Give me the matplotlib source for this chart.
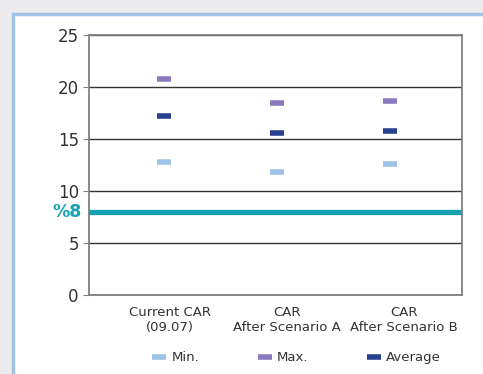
import matplotlib.pyplot as plt
import matplotlib.transforms as mtransforms
from matplotlib.patches import Rectangle
import numpy as np

# CAR ranges per case
categories = ['Current CAR\n(09.07)', 'CAR\nAfter Scenario A', 'CAR\nAfter Scenario B']
car_min = [12.8, 11.8, 12.6]
car_max = [20.8, 18.5, 18.7]
car_avg = [17.2, 15.6, 15.8]
threshold = 8
yticks = [0, 5, 10, 15, 20, 25]

fig = plt.figure(figsize=(4.83, 3.74), dpi=100, facecolor='#ebebee')

# white panel with light blue frame, kept behind the axes
panel = Rectangle((12.5 / 483, -0.05), 1.2, 1 - 13.5 / 374 + 0.05,
                  transform=fig.transFigure, facecolor='white',
                  edgecolor='#9dc3e6', linewidth=2.5, zorder=-1)
fig.patches.append(panel)

ax = fig.add_axes([89 / 483, 1 - 295 / 374, 373 / 483, 260 / 374])
ax.set_facecolor('white')

x = np.arange(len(categories))
ax.plot(x, car_min, linestyle='none', marker='_', markersize=10,
        markeredgewidth=4, color='#9dc3e6', label='Min.', zorder=4)
ax.plot(x, car_max, linestyle='none', marker='_', markersize=10,
        markeredgewidth=4, color='#8b79bd', label='Max.', zorder=4)
ax.plot(x, car_avg, linestyle='none', marker='_', markersize=10,
        markeredgewidth=4, color='#283f8e', label='Average', zorder=4)

# minimum requirement line
ax.axhline(threshold, color='#16a2b3', linewidth=3.8, zorder=3)
ax.text(-0.019, threshold, '%' + str(threshold), transform=ax.get_yaxis_transform(),
        ha='right', va='center', fontsize=12.5, fontweight='bold', color='#16a2b3')

ax.set_ylim(yticks[0], yticks[-1])
ax.set_xlim(-0.66, 2.64)
ax.set_yticks(yticks)
ax.set_yticklabels([str(v) for v in yticks])
ax.yaxis.grid(True, color='#333333', linewidth=1)
ax.set_axisbelow(True)
ax.tick_params(axis='y', length=4.3, width=0.8, color='#808080', labelsize=12,
               labelcolor='#333333', pad=3)

ax.set_xticks(x)
ax.set_xticklabels(categories, fontsize=9.5, color='#333333')
ax.tick_params(axis='x', length=0, pad=8)
shifts = [6, 10, 14]
for lbl, dx in zip(ax.get_xticklabels(), shifts):
    lbl.set_transform(lbl.get_transform() +
                      mtransforms.ScaledTranslation(dx / 100, 0, fig.dpi_scale_trans))

for side in ['left', 'right', 'top', 'bottom']:
    ax.spines[side].set_color('#808080')
    ax.spines[side].set_linewidth(1.3)

ax.legend(loc='center', bbox_to_anchor=(0.615, 0.043),
          bbox_transform=fig.transFigure, ncol=3, frameon=False,
          fontsize=9.5, handlelength=1.0, handletextpad=0.4,
          columnspacing=4.5, labelcolor='#333333')

fig.savefig('out.png', dpi=100, facecolor=fig.get_facecolor())
